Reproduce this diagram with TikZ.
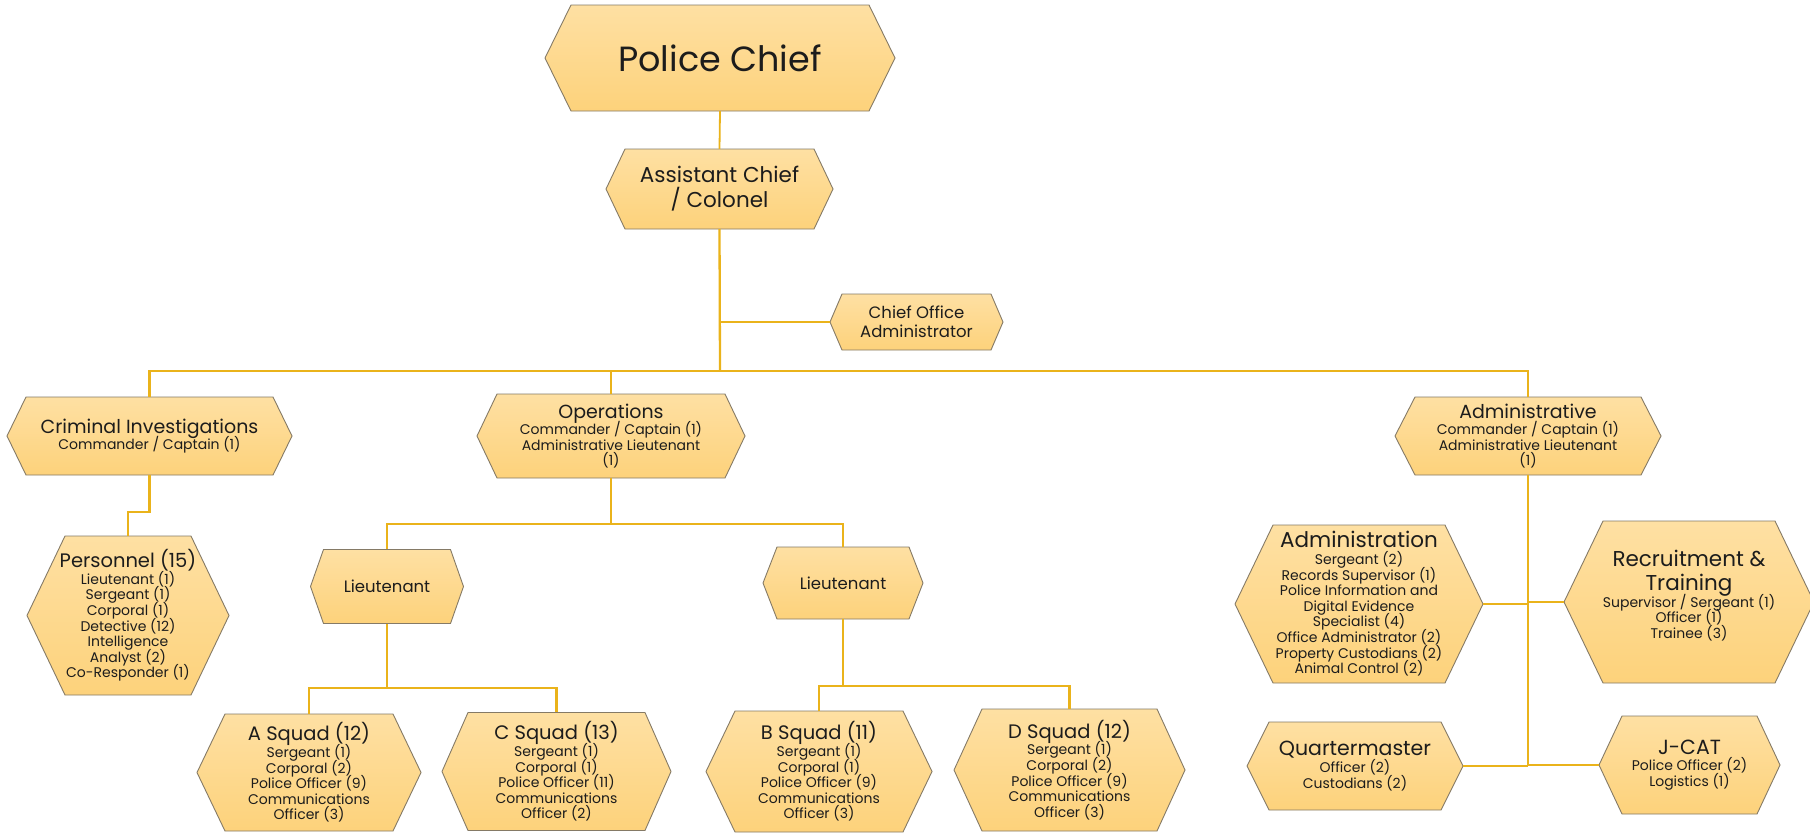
\documentclass[tikz,border=0pt]{standalone}
\usepackage{fontspec}
\setmainfont{Poppins}
\definecolor{hexTop}{HTML}{FEE0A3}
\definecolor{hexBot}{HTML}{FDD27B}
\definecolor{hexEdge}{HTML}{857A66}
\definecolor{wire}{HTML}{EAB31B}
\definecolor{ink}{HTML}{1C1C1C}
\newcommand\fs[2]{\fontsize{#1}{#2}\selectfont}
\newcommand\ttl{\fs{19}{21}}
% hexagon: [label options] name, centre x, centre y, width, height, chamfer, label
\newcommand\hexnode[8][]{%
  \shade[hexfill] (#3-#5/2,#4) -- (#3-#5/2+#7,#4-#6/2) -- (#3+#5/2-#7,#4-#6/2)
    -- (#3+#5/2,#4) -- (#3+#5/2-#7,#4+#6/2) -- (#3-#5/2+#7,#4+#6/2) -- cycle;
  \node[hexlabel, minimum width=#5pt, minimum height=#6pt, #1] (#2) at (#3,#4) {#8};
}
\begin{document}
% keep an even line pitch inside the labels
\lineskiplimit=-100pt
\begin{tikzpicture}[x=1pt,y=-1pt,
  hexfill/.style={top color=hexTop, bottom color=hexBot, draw=hexEdge, line width=0.9pt},
  hexlabel/.style={inner sep=0pt, align=center, text=ink, font=\fs{14}{15.6}},
  wireline/.style={draw=wire, line width=2.3pt}]
\useasboundingbox[fill=white] (0,0) rectangle (1810,833);

% ---- top of the hierarchy
\hexnode[font=\fs{35}{38}]{chief}{720}{58}{350}{106}{26}{Police Chief}
\hexnode[font=\fs{21.5}{25}]{asst}{719.5}{189}{227}{80}{19}{Assistant Chief\\/ Colonel}
\hexnode[font=\fs{16.5}{18.5}]{coa}{916.5}{322}{173}{56}{12}{Chief Office\\Administrator}

% ---- divisions
\hexnode{crim}{149.5}{436}{285}{78}{19}{{\ttl Criminal Investigations}\\[1pt]Commander / Captain (1)}
\hexnode{ops}{611}{436}{268}{84}{20}{{\ttl Operations}\\[1pt]Commander / Captain (1)\\Administrative Lieutenant\\(1)}
\hexnode{admtv}{1528}{436}{266}{78}{20}{{\ttl Administrative}\\[1pt]Commander / Captain (1)\\Administrative Lieutenant\\(1)}

% ---- criminal investigations
\hexnode{pers}{128}{615.5}{202}{159}{38}{{\fs{19.5}{21}Personnel (15)}\\[1pt]Lieutenant (1)\\Sergeant (1)\\Corporal (1)\\Detective (12)\\Intelligence\\Analyst (2)\\Co-Responder (1)}

% ---- operations
\hexnode[font=\fs{16.5}{18}]{lt1}{387}{586.5}{153}{74}{13}{Lieutenant}
\hexnode[font=\fs{16.5}{18}]{lt2}{843}{583}{160}{72}{14}{Lieutenant}
\hexnode{asq}{309}{772.5}{224}{117}{28}{{\fs{19.5}{21}A Squad (12)}\\[1pt]Sergeant (1)\\Corporal (2)\\Police Officer (9)\\Communications\\Officer (3)}
\hexnode{csq}{556.5}{771.5}{229}{118}{26}{{\fs{19.5}{21}C Squad (13)}\\[1pt]Sergeant (1)\\Corporal (1)\\Police Officer (11)\\Communications\\Officer (2)}
\hexnode{bsq}{819}{771.5}{226}{121}{29}{{\fs{19.5}{21}B Squad (11)}\\[1pt]Sergeant (1)\\Corporal (1)\\Police Officer (9)\\Communications\\Officer (3)}
\hexnode{dsq}{1069.5}{770}{231}{122}{28}{{\fs{19.5}{21}D Squad (12)}\\[1pt]Sergeant (1)\\Corporal (2)\\Police Officer (9)\\Communications\\Officer (3)}

% ---- administrative
\hexnode{adm}{1359}{604}{248}{158}{38}{{\fs{21.5}{23}Administration}\\[1pt]Sergeant (2)\\Records Supervisor (1)\\Police Information and\\Digital Evidence\\Specialist (4)\\Office Administrator (2)\\Property Custodians (2)\\Animal Control (2)}
\hexnode{rec}{1689}{602}{250}{162}{39}{{\fs{21.5}{23}Recruitment \&}\\[8.4pt]{\fs{21.5}{23}Training}\\[1.5pt]Supervisor / Sergeant (1)\\Officer (1)\\Trainee (3)\\\mbox{}}
\hexnode{qm}{1355}{766}{216}{88}{22}{{\fs{20.5}{22}Quartermaster}\\[1pt]Officer (2)\\Custodians (2)}
\hexnode{jcat}{1689.5}{765}{181}{98}{23}{{\fs{20.5}{22}J-CAT}\\[1pt]Police Officer (2)\\Logistics (1)}

% ---- junction points of the connectors
\coordinate (bus) at (720,371);
\coordinate (persj) at (128,512);
\coordinate (opsj) at (611,524);
\coordinate (l1j) at (387,688);
\coordinate (l2j) at (843,686);
\coordinate (admj) at (1528,766);

% ---- connectors
\draw[wire, line width=1.8pt] (chief.south) -- (asst.north);
\draw[wireline] (asst.south) -- (bus);
\draw[wireline] (coa.west) -- (coa.west -| asst.south);
\draw[wireline] (crim.north) -- (crim.north |- bus) -- (admtv.north |- bus) -- (admtv.north);
\draw[wireline] (ops.north) -- (ops.north |- bus);
\draw[wireline] (crim.south) -- (crim.south |- persj) -| (pers.north);
\draw[wireline] (ops.south) -- (opsj);
\draw[wireline] (lt1.north) |- (opsj) -| (lt2.north);
\draw[wireline] (lt1.south) -- (l1j);
\draw[wireline] (asq.north) |- (l1j) -| (csq.north);
\draw[wireline] (lt2.south) -- (l2j);
\draw[wireline] (bsq.north) |- (l2j) -| (dsq.north);
\draw[wireline] (admtv.south) -- (admj);
\draw[wireline] (adm.east) -- (adm.east -| admj);
\draw[wireline] (rec.west) -- (rec.west -| admj);
\draw[wireline] (qm.east) -- (qm.east -| admj);
\draw[wireline] (jcat.west) -- (jcat.west -| admj);
\end{tikzpicture}
\end{document}
